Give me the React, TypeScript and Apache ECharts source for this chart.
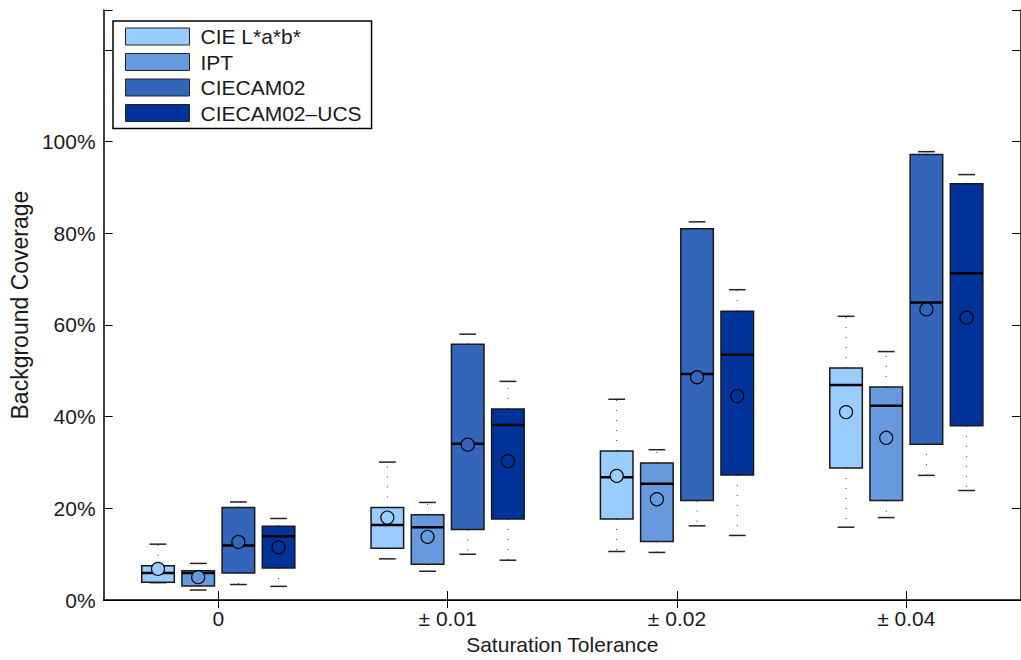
import React, { useEffect, useRef } from 'react';
import * as echarts from 'echarts';

// Categories (x axis) and y tick config
const categories = ['0', '± 0.01', '± 0.02', '± 0.04'];
const seriesNames = ['CIE L*a*b*', 'IPT', 'CIECAM02', 'CIECAM02\u2013UCS'];
const seriesColors = ['#99ccff', '#6699dd', '#3366bb', '#003399'];
const yMax = 128.7;
const yInterval = 20;

// Each row: [lowerWhisker, q1, median, q3, upperWhisker, mean] in percent
const cieLab = [
  [3.8, 3.9, 5.9, 7.5, 12.2, 6.8],
  [9.0, 11.3, 16.4, 20.2, 30.1, 18.0],
  [10.6, 17.7, 26.8, 32.5, 43.8, 27.1],
  [15.9, 28.8, 46.9, 50.6, 61.9, 41.0],
];
const ipt = [
  [2.2, 3.1, 5.9, 6.4, 8.0, 5.0],
  [6.3, 7.8, 15.9, 18.6, 21.3, 13.8],
  [10.4, 12.8, 25.4, 29.9, 32.8, 22.0],
  [18.0, 21.7, 42.4, 46.5, 54.2, 35.4],
];
const ciecam02 = [
  [3.4, 5.9, 11.9, 20.2, 21.4, 12.7],
  [10.0, 15.4, 34.1, 55.8, 58.0, 33.9],
  [16.2, 21.7, 49.3, 81.0, 82.5, 48.6],
  [27.2, 34.0, 64.9, 97.2, 97.8, 63.4],
];
const ciecam02ucs = [
  [3.0, 7.0, 13.9, 16.1, 17.8, 11.5],
  [8.7, 17.7, 38.2, 41.7, 47.7, 30.3],
  [14.1, 27.3, 53.5, 63.0, 67.7, 44.5],
  [23.9, 38.0, 71.3, 90.8, 92.8, 61.6],
];
const allSeries = [cieLab, ipt, ciecam02, ciecam02ucs];

const FONT = '"Liberation Sans", Arial, Helvetica, sans-serif';
const TEXT = '#1a1a1a';

function makeRender(sIdx: number) {
  return (params: any, api: any) => {
    const cat = api.value(0);
    const cx = api.coord([cat, 0])[0];
    const band = api.size([1, 0])[0];
    const x = cx + (sIdx - 1.5) * band * 0.1752;
    const w = band * 0.142;
    const capW = band * 0.073;
    const y = (v: number) => api.coord([cat, v])[1];
    const lo = y(api.value(1));
    const q1 = y(api.value(2));
    const med = y(api.value(3));
    const q3 = y(api.value(4));
    const hi = y(api.value(5));
    const mean = y(api.value(6));
    const color = seriesColors[sIdx];
    const dotted = { stroke: '#333', lineWidth: 1, lineDash: [1, 9] };
    const cap = { stroke: '#222', lineWidth: 1.5 };
    return {
      type: 'group',
      children: [
        { type: 'line', shape: { x1: x, y1: q3, x2: x, y2: hi }, style: dotted },
        { type: 'line', shape: { x1: x, y1: q1, x2: x, y2: lo }, style: dotted },
        { type: 'line', shape: { x1: x - capW / 2, y1: hi, x2: x + capW / 2, y2: hi }, style: cap },
        { type: 'line', shape: { x1: x - capW / 2, y1: lo, x2: x + capW / 2, y2: lo }, style: cap },
        {
          type: 'rect',
          shape: { x: x - w / 2, y: q3, width: w, height: q1 - q3 },
          style: { fill: color, stroke: '#1a1a1a', lineWidth: 1.5 },
        },
        {
          type: 'line',
          shape: { x1: x - w / 2, y1: med, x2: x + w / 2, y2: med },
          style: { stroke: '#000', lineWidth: 2.5 },
        },
        {
          type: 'circle',
          shape: { cx: x, cy: mean, r: 6.5 },
          style: { fill: color, stroke: '#000', lineWidth: 1.2 },
        },
      ],
    };
  };
}

export default function App() {
  const ref = useRef<HTMLDivElement>(null);
  useEffect(() => {
    document.body.style.margin = '0';
    if (!ref.current) return;
    const chart = echarts.init(ref.current, undefined, { renderer: 'svg' });
    const series = allSeries.map((rows, sIdx) => ({
      type: 'custom',
      name: seriesNames[sIdx],
      renderItem: makeRender(sIdx),
      itemStyle: { color: seriesColors[sIdx], borderColor: '#222', borderWidth: 1 },
      encode: { x: 0, y: [1, 2, 3, 4, 5, 6] },
      data: rows.map((r, i) => [i, ...r]),
      xAxisIndex: 0,
      yAxisIndex: 0,
      z: 2,
    }));
    const commonX = {
      type: 'category',
      data: categories,
      boundaryGap: true,
      axisLine: { show: true, lineStyle: { color: '#000', width: 1.5 } },
      splitLine: { show: false },
    };
    const commonY = {
      type: 'value',
      min: 0,
      max: yMax,
      interval: yInterval,
      splitLine: { show: false },
      axisLine: { show: true, lineStyle: { color: '#000', width: 1.5 } },
    };
    chart.setOption({
      animation: false,
      backgroundColor: '#fff',
      grid: { left: 102, top: 10, width: 927, height: 592, containLabel: false },
      legend: {
        data: seriesNames,
        orient: 'vertical',
        left: 113,
        top: 21,
        padding: [5, 10, 5, 12],
        itemWidth: 64,
        itemHeight: 17,
        itemGap: 4.5,
        icon: 'rect',
        backgroundColor: '#fff',
        borderColor: '#000',
        borderWidth: 1.5,
        borderRadius: 0,
        itemStyle: { borderColor: '#222', borderWidth: 1 },
        textStyle: {
          fontSize: 21,
          color: TEXT,
          fontFamily: FONT,
          lineHeight: 17,
          padding: [0, 0, 0, 6],
        },
      },
      xAxis: [
        {
          ...commonX,
          position: 'bottom',
          axisTick: { show: true, inside: true, length: 9, alignWithLabel: true, lineStyle: { color: '#000' } },
          axisLabel: { fontSize: 21, color: TEXT, fontFamily: FONT, margin: 8 },
          name: 'Saturation Tolerance',
          nameLocation: 'middle',
          nameGap: 33,
          nameTextStyle: { fontSize: 21, color: TEXT, fontFamily: FONT },
        },
        {
          ...commonX,
          position: 'top',
          axisLine: { show: true, lineStyle: { color: '#000', width: 1 } },
          axisTick: { show: true, inside: true, length: 8, alignWithLabel: true, lineStyle: { color: '#000' } },
          axisLabel: { show: false },
        },
      ],
      yAxis: [
        {
          ...commonY,
          position: 'left',
          axisTick: { show: true, inside: true, length: 9, lineStyle: { color: '#000' } },
          axisLabel: {
            fontSize: 21,
            color: TEXT,
            fontFamily: FONT,
            margin: 8,
            formatter: (v: number) => (v <= 100.001 ? `${Math.round(v)}%` : ''),
          },
          name: 'Background Coverage',
          nameLocation: 'middle',
          nameGap: 71,
          nameTextStyle: { fontSize: 23, color: TEXT, fontFamily: FONT },
        },
        {
          ...commonY,
          position: 'right',
          axisTick: { show: true, inside: true, length: 9, lineStyle: { color: '#000' } },
          axisLabel: { show: false },
        },
      ],
      series,
    });
    return () => chart.dispose();
  }, []);
  return <div ref={ref} style={{ width: 1021, height: 660 }} />;
}
